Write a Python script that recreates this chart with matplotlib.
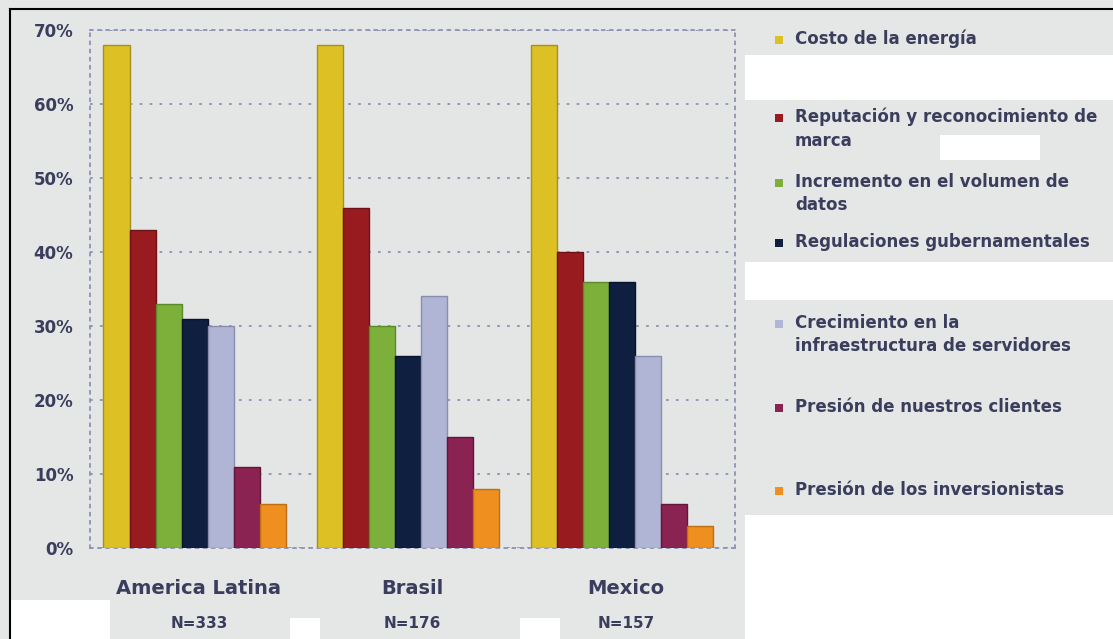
import matplotlib
matplotlib.use('Agg')
import matplotlib.pyplot as plt
import numpy as np
from matplotlib.patches import Rectangle
from matplotlib.lines import Line2D
from matplotlib.transforms import blended_transform_factory

# ---------------- data ----------------
regions = ['America Latina', 'Brasil', 'Mexico']
sample_sizes = ['N=333', 'N=176', 'N=157']
series_names = [
    'Costo de la energía',
    'Reputación y reconocimiento de\nmarca',
    'Incremento en el volumen de\ndatos',
    'Regulaciones gubernamentales',
    'Crecimiento en la\ninfraestructura de servidores',
    'Presión de nuestros clientes',
    'Presión de los inversionistas',
]
costo_energia = [68, 68, 68]
reputacion_marca = [43, 46, 40]
incremento_datos = [33, 30, 36]
regulaciones = [31, 26, 36]
crecimiento_infra = [30, 34, 26]
presion_clientes = [11, 15, 6]
presion_inversionistas = [6, 8, 3]
y_ticks = [0, 10, 20, 30, 40, 50, 60, 70]
y_tick_labels = ['0%', '10%', '20%', '30%', '40%', '50%', '60%', '70%']

series_values = [costo_energia, reputacion_marca, incremento_datos, regulaciones,
                 crecimiento_infra, presion_clientes, presion_inversionistas]
colors = ['#dcc024', '#981b1f', '#7cb03b', '#0f1f40', '#b1b5d5', '#8a2252', '#ef8f1f']
edge_colors = ['#a89020', '#6e1216', '#5a8a2a', '#08142c', '#8a8eae', '#641638', '#c06e12']

# ---------------- figure ----------------
W, H = 1113, 639
fig = plt.figure(figsize=(W / 100, H / 100), dpi=100)
fig.patch.set_facecolor('#e5e7e7')

# white artifact regions of the screenshot
for (x0, y0, x1, y1) in [(745, 55, 1113, 100), (745, 262, 1113, 300), (745, 515, 1113, 639),
                         (940, 135, 1040, 160), (10, 600, 110, 639), (290, 618, 320, 639),
                         (520, 618, 560, 639)]:
    fig.patches.append(Rectangle((x0 / W, 1 - y1 / H), (x1 - x0) / W, (y1 - y0) / H,
                                 transform=fig.transFigure, facecolor='white',
                                 edgecolor='none', zorder=0))

ax = fig.add_axes([90 / W, 1 - 548 / H, 645 / W, 518 / H])
ax.set_facecolor('#e4e6e6')

x = np.arange(len(regions))
w = 0.122
n = len(series_values)
for i, (vals, c, ec) in enumerate(zip(series_values, colors, edge_colors)):
    ax.bar(x + (i - (n - 1) / 2) * w, vals, width=w, color=c, edgecolor=ec,
           linewidth=1.0, zorder=3)

ax.set_xlim(-0.49, 2.53)
ax.set_ylim(0, 70)
ax.set_yticks(y_ticks)
ax.set_yticklabels(y_tick_labels)
ax.set_xticks([])
grid_color = '#8c92b4'
ax.yaxis.grid(True, linestyle=(0, (1.5, 4)), color=grid_color, linewidth=1.3, zorder=1)
for s in ['top', 'right', 'bottom', 'left']:
    ax.spines[s].set_linestyle((0, (1.5, 3)))
    ax.spines[s].set_color(grid_color)
    ax.spines[s].set_linewidth(1.3)
ax.tick_params(axis='y', length=0, pad=12, labelsize=12, labelcolor='#3a3e5c')
for lbl in ax.get_yticklabels():
    lbl.set_fontweight('bold')

text_color = '#3a3e5c'
trans = blended_transform_factory(ax.transData, fig.transFigure)
for xi, reg, nn in zip(x, regions, sample_sizes):
    ax.text(xi + 0.02, 1 - 589 / H, reg, transform=trans, ha='center', va='center',
            fontsize=14, fontweight='bold', color=text_color)
    ax.text(xi + 0.02, 1 - 624 / H, nn, transform=trans, ha='center', va='center',
            fontsize=11, fontweight='bold', color=text_color)

# ---------------- legend ----------------
legend_y = [40, 118, 183, 243, 324, 408, 491]
for name, c, yc in zip(series_names, colors, legend_y):
    fig.patches.append(Rectangle((775 / W, 1 - (yc + 4) / H), 8 / W, 8 / H,
                                 transform=fig.transFigure, facecolor=c,
                                 edgecolor='none', zorder=3))
    fig.text(795 / W, 1 - (yc - 10) / H, name, ha='left', va='top', fontsize=12,
             fontweight='bold', color=text_color, linespacing=1.38)

# black border of the screenshot
fig.add_artist(Line2D([10 / W, 1], [1 - 9 / H, 1 - 9 / H], transform=fig.transFigure,
                      color='black', linewidth=1.5))
fig.add_artist(Line2D([10 / W, 10 / W], [0, 1 - 9 / H], transform=fig.transFigure,
                      color='black', linewidth=1.5))

fig.savefig('out.png', dpi=100, facecolor=fig.get_facecolor())
